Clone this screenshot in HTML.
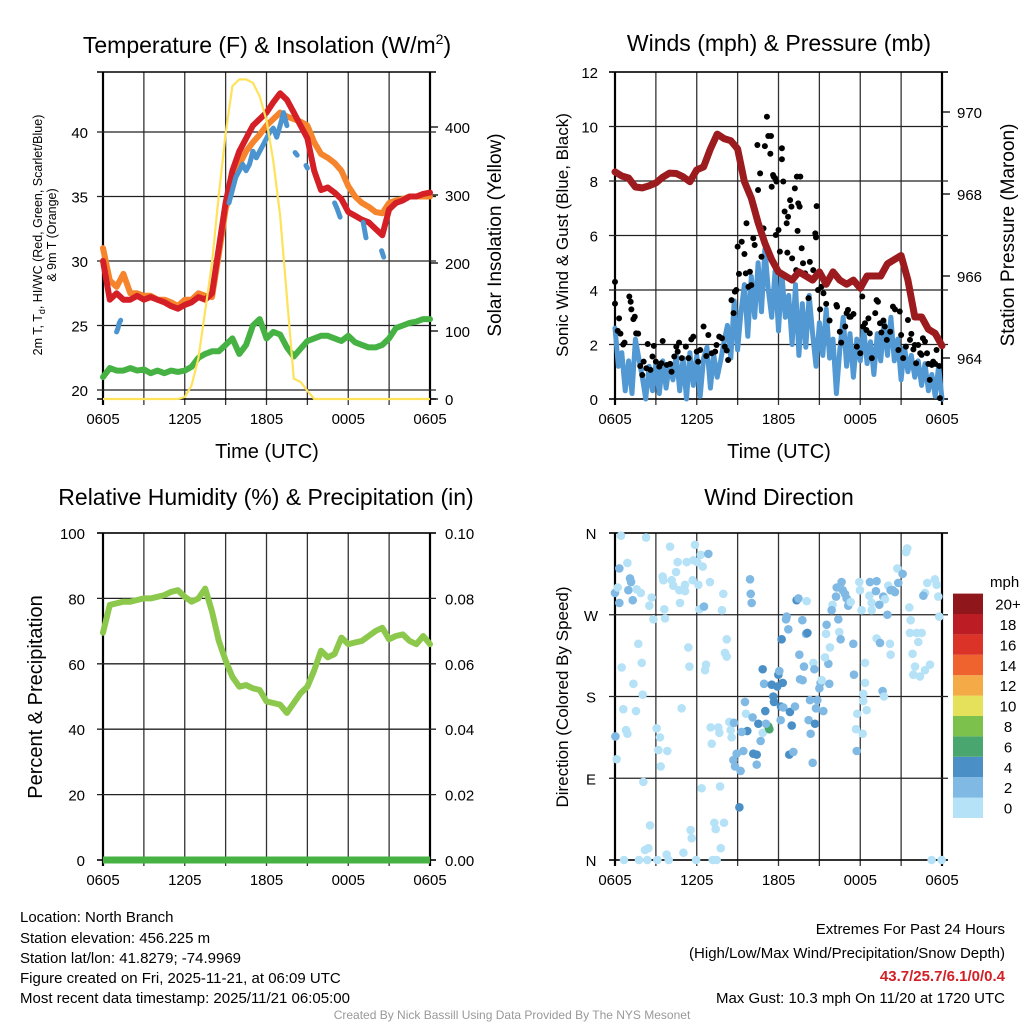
<!DOCTYPE html>
<html><head><meta charset="utf-8"><title>NYS Mesonet North Branch</title>
<style>
html,body{margin:0;padding:0;background:#fff;}
svg{display:block;font-family:"Liberation Sans",sans-serif;}
</style></head>
<body>
<svg id="fig" width="1024" height="1024" viewBox="0 0 1024 1024" xmlns="http://www.w3.org/2000/svg">
<rect x="0" y="0" width="1024" height="1024" fill="#fff"/>
<g id="p1"></g>
<g id="p2"></g>
<g id="p3"></g>
<g id="p4"></g>

<text x="267" y="53" font-size="23" text-anchor="middle">Temperature (F) &amp; Insolation (W/m<tspan dy="-9" font-size="14">2</tspan><tspan dy="9">)</tspan></text>
<text x="779" y="51" font-size="23" text-anchor="middle">Winds (mph) &amp; Pressure (mb)</text>
<text x="266" y="505" font-size="23" text-anchor="middle">Relative Humidity (%) &amp; Precipitation (in)</text>
<text x="779" y="505" font-size="23" text-anchor="middle">Wind Direction</text>

<text x="267" y="458" font-size="20" text-anchor="middle">Time (UTC)</text>
<text x="779" y="458" font-size="20" text-anchor="middle">Time (UTC)</text>

<text transform="translate(42,235) rotate(-90)" font-size="12.5" text-anchor="middle">2m T, T<tspan dy="3" font-size="9">d</tspan><tspan dy="-3">, HI/WC (Red, Green, Scarlet/Blue)</tspan></text>
<text transform="translate(56,235) rotate(-90)" font-size="12.5" text-anchor="middle">&amp; 9m T (Orange)</text>
<text transform="translate(501,235) rotate(-90)" font-size="19" text-anchor="middle">Solar Insolation (Yellow)</text>
<text transform="translate(568,235) rotate(-90)" font-size="17" text-anchor="middle">Sonic Wind &amp; Gust (Blue, Black)</text>
<text transform="translate(1014,235) rotate(-90)" font-size="19" text-anchor="middle">Station Pressure (Maroon)</text>
<text transform="translate(42,697) rotate(-90)" font-size="20" text-anchor="middle">Percent &amp; Precipitation</text>
<text transform="translate(568,697) rotate(-90)" font-size="17" text-anchor="middle">Direction (Colored By Speed)</text>

<g font-size="15">
<text x="20" y="922">Location: North Branch</text>
<text x="20" y="943">Station elevation: 456.225 m</text>
<text x="20" y="963">Station lat/lon: 41.8279; -74.9969</text>
<text x="20" y="983">Figure created on Fri, 2025-11-21, at 06:09 UTC</text>
<text x="20" y="1003">Most recent data timestamp: 2025/11/21 06:05:00</text>
</g>
<g font-size="15" text-anchor="end">
<text x="1005" y="934">Extremes For Past 24 Hours</text>
<text x="1005" y="958">(High/Low/Max Wind/Precipitation/Snow Depth)</text>
<text x="1005" y="981" font-weight="bold" fill="#d22027">43.7/25.7/6.1/0/0.4</text>
<text x="1005" y="1003">Max Gust: 10.3 mph On 11/20 at 1720 UTC</text>
</g>
<text x="512" y="1019" font-size="12" fill="#999" text-anchor="middle">Created By Nick Bassill Using Data Provided By The NYS Mesonet</text>
</svg>
<script>
// ---------- data ----------
const timeLabels = ["0605","1205","1805","0005","0605"];
const tempRed = [30,27,27.5,27,27,27.3,27,27.2,27,26.8,26.5,26.3,26.6,26.8,27.2,27,27.5,31,34.5,37,38.5,39.5,40.5,41,41.5,42.3,43,42.5,41.5,40.5,39.5,37,35.5,35.7,35.3,34.8,33.8,33.5,33.2,33,32.5,32,34,34.5,34.7,35,35,35.2,35.3];
const tempOrange = [31,28.5,28,29,27.5,27.5,27.3,27.3,27,27,26.8,26.5,27,27,27.5,27.3,27.2,30.5,34,36,37.5,38.5,39.2,39.8,40.5,41,41.5,41.2,41,40.8,40.5,39.2,38.3,38,37.6,37,35.8,35,34.5,34.2,33.8,33.7,34.5,34.7,34.8,35,35,35,35];
const dewPoint = [21,21.7,21.5,21.5,21.7,21.5,21.6,21.3,21.5,21.3,21.5,21.4,21.5,21.8,22.5,22.8,23,23,23.5,24,22.8,23.5,25,25.5,24,24.5,24.3,23.3,22.6,23.2,23.8,24,24.2,24.2,24,23.8,24.2,23.7,23.5,23.3,23.3,23.5,24,24.8,25,25.2,25.3,25.5,25.5];
const solar = [0,0,0,0,0,0,0,0,0,0,0,0,3,20,60,130,200,300,390,460,470,470,465,445,410,350,270,150,30,25,12,0,0,0,0,0,0,0,0,0,0,0,0,0,0,0,0,0,0];
const wcTime = [1.0,1.1,1.2,1.3,null,9.25,9.5,9.75,10,10.25,10.5,10.75,11,11.25,11.5,11.75,12,12.25,12.5,12.75,13,13.25,13.5,null,14.1,14.25,null,14.9,15.0,null,17.0,17.2,17.4,null,19.1,19.3,null,20.45,20.6];
const wcVal = [24.5,24.8,25.2,25.4,null,34.5,35.5,36.5,37,37.5,37,37.5,38.5,38,38.5,39,39.5,40,40.3,39.6,40.5,41.5,40.5,null,38.4,38.2,null,37.4,37.2,null,34.5,34,33.4,null,33,31.8,null,30.8,30.3];
const tempTicks = [20,25,30,35,40];
const solarTicks = [0,100,200,300,400];

const windSpeed = [2.6,1.2,1.7,0.3,1.4,0.2,2.2,1.5, 0.8,0.0,1.2,0.3,1.3,0.2,1.4,0.4, 1.3,0.7,1.6,0.3,1.5,0.0,1.7,0.5, 1.6,0.1,1.5,1.9,0.4,1.6,0.8,1.4, 2.1,2.7,1.5,3.6,1.8,3.2,4.2,2.3, 4.5,3.0,5.0,3.2,5.5,4.0,3.0,4.7, 2.5,4.6,3.0,3.8,2.0,4.2,1.6,3.5, 1.9,3.8,2.4,1.2,2.8,1.6,3.3,1.5, 2.2,0.2,1.8,3.0,1.2,2.4,0.8,2.2, 1.4,2.6,1.3,2.1,0.9,2.4,1.4,2.8, 1.6,3.0,1.4,2.2,0.7,1.9,1.0,1.6, 0.8,1.4,0.5,1.3,0.3,0.9,0.1,1.2, 0.0];
const pressure = [968.54,968.44,968.39,968.17,968.15,968.2,968.27,968.41,968.51,968.5,968.42,968.3,968.59,968.66,969.1,969.46,969.35,969.3,969.1,968.3,967.9,967.3,966.8,966.4,966.1,966.0,965.9,966.1,966.0,965.9,966.1,965.8,966.1,965.9,965.8,965.9,965.7,966.0,966.0,966.0,966.3,966.4,966.5,965.9,965.0,965.0,964.7,964.6,964.3];
const gustTime = [0,0,0.3,0.2,0.4,0.6,0.7,1.05,1.15,1.2,1.35,1.45,1.55,1.7,1.85,2.0,2.1,2.3,2.4,2.6,2.75,2.85,3.0,3.25,3.4,3.5,3.8,4.05,4.15,4.35,4.5,4.6,4.7,4.9,5.2,5.4,5.6,5.75,6.0,6.1,6.25,6.5,6.7,6.85,7.1,7.35,7.45,7.65,7.85,8.05,8.2,8.3,8.55,8.7,8.8,8.9,9.0,9.1,9.3,9.5,9.6,9.65,9.8,9.9,10.0,10.15,10.25,10.45,10.5,10.65,10.75,10.9,11.0,11.15,11.25,11.4,11.45,11.5,11.6,11.65,11.75,11.8,11.85,12.0,12.1,12.25,12.25,12.35,12.45,12.6,12.65,12.7,12.85,12.95,13.0,13.2,13.3,13.35,13.4,13.45,13.55,13.6,13.7,13.8,13.95,14.2,14.3,14.55,14.7,14.75,14.8,14.9,15.05,15.15,15.3,15.5,15.75,16.25,16.3,16.5,16.6,16.9,17.0,17.1,17.2,17.3,17.5,17.75,18.0,18.15,18.2,18.35,18.45,18.6,18.7,18.85,19.1,19.2,19.3,19.45,19.55,19.7,19.8,19.95,20.2,20.4,20.55,20.8,20.9,21.0,21.15,21.35,21.5,21.65,21.75,21.9,22.0,22.1,22.25,22.4,22.5,22.6,22.75,22.9,23.0,23.1,23.25,23.35,23.5,23.6,23.8,23.85];
const gustVal = [4.3,3.5,2.96,2.5,2.4,2.0,2.07,3.76,3.57,3.29,2.93,3.02,2.41,2.4,1.21,0.88,1.37,1.13,2.02,1.07,1.56,1.95,1.37,1.19,1.31,2.13,1.25,1.29,1.0,1.56,1.92,1.74,2.07,1.5,1.92,1.5,2.19,2.29,1.74,1.37,1.8,2.66,1.58,2.35,1.68,1.74,1.98,2.29,2.23,1.92,1.78,1.43,3.63,3.15,3.94,4.0,5.59,4.59,5.77,5.32,4.61,6.45,4.12,4.67,4.18,5.9,5.65,9.32,7.67,8.28,5.22,6.26,9.28,10.36,9.65,9.0,9.65,7.79,8.22,8.16,8.1,6.02,7.98,6.2,5.41,9.2,8.8,7.98,6.88,6.45,5.37,6.69,7.3,7.06,5.16,7.73,4.73,8.16,6.17,7.18,7.06,8.16,5.53,4.98,4.61,3.7,5.03,4.73,6.08,5.93,7.08,4.0,3.29,4.12,3.88,3.49,2.88,3.45,3.39,2.47,2.07,2.66,3.15,3.27,3.02,3.02,3.12,1.92,1.68,3.76,2.66,2.78,2.53,2.96,2.41,1.5,3.15,3.63,3.57,2.78,2.44,2.88,2.66,2.17,2.47,3.39,3.29,1.8,3.21,2.35,1.5,1.92,2.9,2.17,2.39,1.82,1.98,1.31,1.98,1.68,1.62,2.23,2.11,1.68,1.29,0.7,1.25,1.37,1.29,1.8,1.21,0.03];
const windTicks = [0,2,4,6,8,10,12];
const pressureTicks = [964,966,968,970];

const rh = [69.5,78,78.5,79,79,79.5,80,80,80.5,81,82,82.5,80.5,79,80,83,76,67,61,56,53,53.5,52.5,52,48.5,48,47.5,45,48,51,53,58,64,62,63,68,66,66.5,67,68.5,70,71,67.5,68.5,69,67,66,68.5,66];
const precip = [0,0,0,0,0,0,0,0,0,0,0,0,0,0,0,0,0,0,0,0,0,0,0,0,0,0,0,0,0,0,0,0,0,0,0,0,0,0,0,0,0,0,0,0,0,0,0,0,0];
const rhTicks = [0,20,40,60,80,100];
const precipTicks = ["0.00","0.02","0.04","0.06","0.08","0.10"];

const dirTime = [0.44,2.28,4.04,5.87,6.29,6.85,0.32,0.91,1.1,1.18,0.98,0,0.2,0.32,1.3,1.59,1.89,2.69,2.52,2.82,3.67,3.62,3.5,3.55,4.16,4.28,4.48,4.6,5.26,5.75,6.04,6.44,5.7,5.14,4.72,5.14,6.12,6.97,7.95,4.77,6.19,6.53,7.85,9.91,9.96,10.03,13.33,13.46,14.07,1.71,1.96,0.49,1.35,2.03,0.61,1.54,0.81,0.91,0.03,0.12,2.08,2.57,2.2,2.45,3.06,3.3,3.18,3.84,3.35,4.89,5.38,5.46,6.68,6.61,8.2,8.07,8.2,7.02,7.58,7.66,7.1,8.39,8.49,8.56,8.73,6.36,7.71,7.29,7.39,8.0,5.55,5.63,7.76,5.02,3.79,3.94,1.76,2.37,3.11,0.66,5.95,7.17,7.46,23.24,23.97,9.13,8.93,8.69,8.81,9.22,9.42,9.71,9.3,9.54,9.61,10.1,10.52,10.4,10.15,10.4,10.69,10.84,11.33,11.25,11.08,11.03,10.94,10.84,11.5,11.62,11.67,11.91,11.99,12.06,12.31,12.18,12.35,12.16,12.84,12.97,13.21,12.79,13.09,12.23,12.72,12.55,12.6,13.75,14.02,14.12,13.53,13.87,13.58,13.77,14.36,14.51,14.21,14.31,14.68,14.75,14.85,15.0,15.09,15.29,15.17,15.73,14.56,14.63,15.49,15.53,15.66,15.41,15.78,16.46,16.56,16.39,17.49,17.54,15.97,15.9,16.22,16.27,16.63,16.71,16.88,17.0,17.12,17.3,17.93,17.98,18.1,18.35,18.35,18.22,18.22,18.47,17.78,17.69,18.18,17.74,18.67,18.84,18.84,18.71,19.2,19.15,19.69,19.81,19.4,19.99,20.06,20.23,20.38,20.55,20.79,20.72,21.11,21.36,21.45,21.6,21.7,19.2,19.45,20.18,20.23,19.64,19.74,21.65,22.14,22.51,22.26,21.84,22.02,21.89,22.38,22.75,23.12,22.75,22.63,22.92,23.48,23.61,23.73,23.8];
const dirDeg = [357,355,345,347,336,337,321,327,310,306,297,294,300,283,286,298,294,289,280,265,266,276,312,308,308,302,317,328,328,330,328,323,308,303,297,296,303,306,293,283,276,279,275,309,293,283,286,288,285,238,217,212,194,182,166,164,143,139,136,111,86,38,11,13,145,135,121,120,103,167,234,213,215,209,243,228,224,146,146,140,128,152,143,135,151,79,81,41,34,41,33,24,13,8,6,0,0,0,0,0,0,0,0,0,0,58,117,110,103,98,120,142,141,174,161,157,150,116,117,105,131,140,144,147,150,164,194,210,193,180,174,191,204,208,195,169,168,154,163,148,169,116,119,243,254,265,268,264,249,250,226,213,199,198,139,107,154,176,150,167,176,189,195,164,198,194,217,210,249,259,216,223,234,251,243,265,238,204,281,275,290,300,306,297,293,288,280,284,306,297,275,217,195,183,175,165,161,144,139,120,291,283,275,306,307,296,290,287,281,270,302,297,297,295,305,321,315,339,343,278,264,244,239,238,226,186,180,250,250,250,240,227,213,204,202,209,215,294,291,305,309,303,290,268];
const dirSpeed = [1,1,1,1,1,3,3,1,3,3,3,3,1,3,3,1,1,1,1,1,1,1,1,1,1,1,1,1,1,1,1,1,1,1,1,1,1,1,1,1,1,3,1,3,3,3,5,3,1,1,1,1,1,1,1,1,1,1,3,1,1,1,1,1,1,1,1,1,1,1,1,1,1,1,1,1,1,1,1,1,1,1,1,1,3,1,1,1,1,1,1,1,1,1,1,1,1,1,1,1,1,1,1,1,1,5,3,3,3,3,3,5,3,3,1,3,5,5,5,3,3,1,7,7,3,5,3,5,5,5,5,5,5,3,5,5,3,3,5,5,3,5,3,5,3,3,3,3,3,5,3,3,3,3,3,3,3,3,5,3,3,3,3,3,1,3,1,3,1,3,3,1,1,1,3,3,3,3,1,3,3,3,3,3,3,3,3,1,1,1,1,1,1,1,1,1,1,1,1,3,1,1,1,3,3,3,3,1,3,3,1,3,3,3,3,1,3,1,1,1,1,1,3,1,1,3,1,1,1,1,1,1,1,1,1,1,1,1,3,1,1,1,1,1,1];
const dirLabels = ["N","E","S","W","N"];
const legendLabels = ["0","2","4","6","8","10","12","14","16","18","20+"];
const legendColors = ["#b5e2f7","#80b9e4","#4a8fc5","#4aa66f","#7cc14b","#e6e15a","#f5aa48","#ef632e","#dc3328","#bc1d25","#8f171b"];

// ---------- helpers ----------
const NS = "http://www.w3.org/2000/svg";
function mk(tag, attrs, parent){
  const e = document.createElementNS(NS, tag);
  for (const k in attrs) e.setAttribute(k, attrs[k]);
  parent.appendChild(e);
  return e;
}
function pathFrom(xs, ys){
  let d = "", pen = false;
  for (let i = 0; i < xs.length; i++){
    if (xs[i] === null || ys[i] === null){ pen = false; continue; }
    d += (pen ? "L" : "M") + xs[i].toFixed(1) + "," + ys[i].toFixed(1);
    pen = true;
  }
  return d;
}
const halfHours = Array.from({length:49}, (_, i) => i * 0.5);
const quarterHours = Array.from({length:97}, (_, i) => i * 0.25);

function frame(g, x0, x1, y0, y1, hLines, nameBase){
  // vertical grid every 3h
  for (let k = 0; k <= 8; k++){
    const x = x0 + (x1 - x0) * k / 8;
    const l = mk("line", {x1:x, x2:x, y1:y0, y2:y1 + 6, stroke: (k===0||k===8)?"#000":"#333", "stroke-width": (k===0||k===8)?2.2:1.3}, g);
    
    
  }
  hLines.forEach(y => {
    const l = mk("line", {x1:x0 - 6, x2:x1 + 6, y1:y, y2:y, stroke:"#222", "stroke-width":1.3}, g);
    
    
  });
  const top = mk("line", {x1:x0 - 6, x2:x1 + 6, y1:y0, y2:y0, stroke:"#000", "stroke-width":1.5}, g);
  
  
  const bot = mk("line", {x1:x0 - 6, x2:x1 + 6, y1:y1, y2:y1, stroke:"#000", "stroke-width":1.5}, g);
  
  
  timeLabels.forEach((t, i) => {
    const tx = mk("text", {x: x0 + (x1 - x0) * i / 4, y: y1 + 25, "font-size":15, "text-anchor":"middle"}, g);
    tx.textContent = t;
    
    
  });
}

// ---------- panel 1: temperature ----------
(function(){
  const g = document.getElementById("p1");
  const X = h => 103 + h / 24 * 327;
  const YT = v => 390 - (v - 20) * 12.9;
  const YS = w => 399 - w * 0.68;
  frame(g, 103, 430, 72, 399, tempTicks.map(YT), "temp");
  tempTicks.forEach(v => {
    const t = mk("text", {x:88, y:YT(v) + 6, "font-size":15, "text-anchor":"end"}, g);
    t.textContent = v;
    
    
  });
  solarTicks.forEach(v => {
    const t = mk("text", {x:445, y:YS(v) + 6, "font-size":15}, g);
    t.textContent = v;
    
    
    const tk = mk("line", {x1:430, x2:438, y1:YS(v), y2:YS(v), stroke:"#000", "stroke-width":1.3}, g);
    
    
  });
  const xs = halfHours.map(X);
  const dew = mk("path", {d:pathFrom(xs, dewPoint.map(YT)), fill:"none", stroke:"#45b243", "stroke-width":6, "stroke-linejoin":"round", "stroke-linecap":"round"}, g);
  
  
  const org = mk("path", {d:pathFrom(xs, tempOrange.map(YT)), fill:"none", stroke:"#f5842c", "stroke-width":6, "stroke-linejoin":"round", "stroke-linecap":"round"}, g);
  
  
  const red = mk("path", {d:pathFrom(xs, tempRed.map(YT)), fill:"none", stroke:"#d41f26", "stroke-width":6, "stroke-linejoin":"round", "stroke-linecap":"round"}, g);
  
  
  const wc = mk("path", {d:pathFrom(wcTime.map(t => t === null ? null : X(t)), wcVal.map(v => v === null ? null : YT(v))), fill:"none", stroke:"#4b94cf", "stroke-width":5, "stroke-linejoin":"round", "stroke-linecap":"round"}, g);
  
  
  const sol = mk("path", {d:pathFrom(xs, solar.map(YS)), fill:"none", stroke:"#fde25a", "stroke-width":2.2, "stroke-linejoin":"round"}, g);
  
  
})();

// ---------- panel 2: winds ----------
(function(){
  const g = document.getElementById("p2");
  const X = h => 615 + h / 24 * 327;
  const YW = v => 399 - v * 27.25;
  const YP = p => 194 - (p - 968) * 41;
  frame(g, 615, 942, 72, 399, windTicks.map(YW), "wind");
  windTicks.forEach(v => {
    const t = mk("text", {x:598, y:YW(v) + 6, "font-size":15, "text-anchor":"end"}, g);
    t.textContent = v;
    
    
  });
  pressureTicks.forEach(v => {
    const t = mk("text", {x:957, y:YP(v) + 6, "font-size":15}, g);
    t.textContent = v;
    
    
    const tk = mk("line", {x1:942, x2:950, y1:YP(v), y2:YP(v), stroke:"#000", "stroke-width":1.3}, g);
    
    
  });
  const ws = mk("path", {d:pathFrom(quarterHours.map(X), windSpeed.map(YW)), fill:"none", stroke:"#5299d3", "stroke-width":5, "stroke-linejoin":"round", "stroke-linecap":"round"}, g);
  
  
  gustTime.forEach((t, i) => {
    const c = mk("circle", {cx:X(t), cy:YW(gustVal[i]), r:3, fill:"#000"}, g);
    
    
  });
  const pr = mk("path", {d:pathFrom(halfHours.map(X), pressure.map(YP)), fill:"none", stroke:"#9b1b1e", "stroke-width":7, "stroke-linejoin":"round", "stroke-linecap":"round"}, g);
  
  
})();

// ---------- panel 3: humidity ----------
(function(){
  const g = document.getElementById("p3");
  const X = h => 103 + h / 24 * 327;
  const Y = v => 860 - v * 3.27;
  frame(g, 103, 430, 533, 860, rhTicks.map(Y), "rh");
  rhTicks.forEach((v, i) => {
    const t = mk("text", {x:85, y:Y(v) + 6, "font-size":15, "text-anchor":"end"}, g);
    t.textContent = v;
    
    
    const t2 = mk("text", {x:445, y:Y(v) + 6, "font-size":15}, g);
    t2.textContent = precipTicks[i];
    
    
  });
  const xs = halfHours.map(X);
  const rl = mk("path", {d:pathFrom(xs, rh.map(Y)), fill:"none", stroke:"#8cc84b", "stroke-width":6, "stroke-linejoin":"round", "stroke-linecap":"round"}, g);
  
  
  const pl = mk("path", {d:pathFrom(xs, precip.map(p => 860 - p * 3270)), fill:"none", stroke:"#45b243", "stroke-width":7}, g);
  
  
})();

// ---------- panel 4: wind direction ----------
(function(){
  const g = document.getElementById("p4");
  const X = h => 615 + h / 24 * 327;
  const Y = d => 860 - d * 327 / 360;
  frame(g, 615, 942, 533, 860, [0,90,180,270,360].map(Y), "dir");
  dirLabels.forEach((s, i) => {
    const t = mk("text", {x:591, y:Y(i * 90) + 6, "font-size":15, "text-anchor":"middle"}, g);
    t.textContent = s;
    
    
  });
  dirTime.forEach((t, i) => {
    const cls = Math.min(10, Math.floor(dirSpeed[i] / 2));
    const c = mk("circle", {cx:X(t), cy:Y(dirDeg[i]), r:4.3, fill:legendColors[cls]}, g);
    
    
  });
  const mph = mk("text", {x:990, y:587, "font-size":15}, g);
  mph.textContent = "mph";
  
  
  legendColors.forEach((col, i) => {
    const y = 818 - (i + 1) * 20.4;
    const r = mk("rect", {x:953, y:y, width:30, height:20.4, fill:col}, g);
    
    
    const t = mk("text", {x:1008, y:y + 16, "font-size":15, "text-anchor":"middle"}, g);
    t.textContent = legendLabels[i];
    
    
  });
})();
</script>
</body></html>
